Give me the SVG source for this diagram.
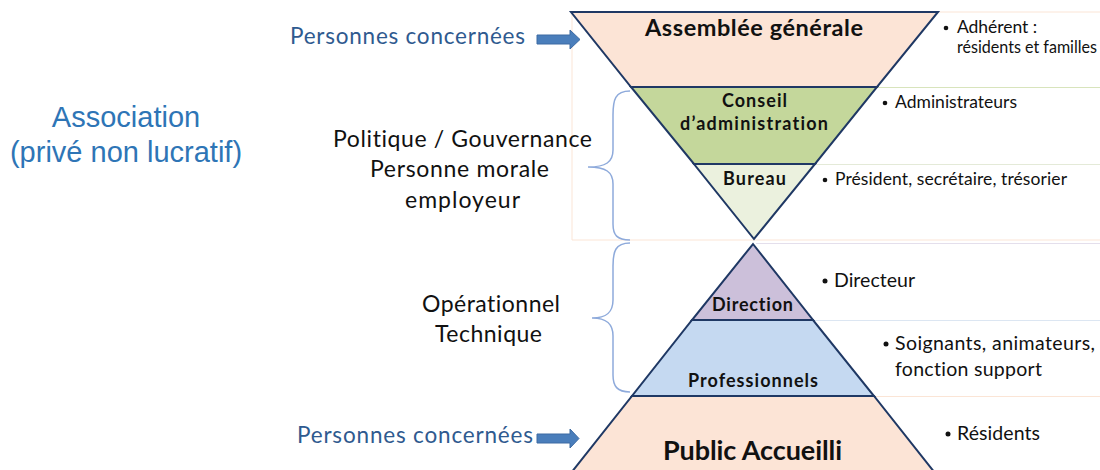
<svg xmlns="http://www.w3.org/2000/svg" width="1100" height="470" viewBox="0 0 1100 470">
<style>
text{font-variant-ligatures:none}
.lbl{font-family:Lato,"Open Sans","Liberation Sans",sans-serif;fill:#111}
.bold{font-weight:bold}
.blue{font-family:Lato,"Open Sans","Liberation Sans",sans-serif;fill:#2F5A8F}
.assoc{font-family:"Liberation Sans",Arial,sans-serif;fill:#2E75B6;font-size:29px}
.shape{stroke:#1F3864;stroke-width:2;stroke-linejoin:miter}
.brace{fill:none;stroke:#8EAADB;stroke-width:1.5}
.arrow{fill:#4A7EBB;stroke:#3C6AA3;stroke-width:1}
.bullet{fill:#111}
</style>
<rect x="0" y="0" width="1100" height="470" fill="#ffffff"/>
<g id="guides" fill="none" stroke-width="1">
<path d="M572,12 V240 H1100" stroke="#FBE5D6"/>
<path d="M938,12 H1100" stroke="#FBE5D6"/>
<path d="M876,87.5 H1100" stroke="#D8E4BC"/>
<path d="M815,164.5 H1100" stroke="#E4EAD8"/>
<path d="M756,243.5 H1100" stroke="#E4DFEC"/>
<path d="M813,320.5 H1100" stroke="#DCE6F2"/>
<path d="M874,396.5 H1100" stroke="#FBE5D6"/>
</g>
<g id="assemblee">
<polygon class="shape" points="571,12 938,12 877,87 631,87" fill="#FCE4D6"/>
<text class="lbl bold" x="645" y="36" font-size="23.5" textLength="218">Assemblée générale</text>
</g>
<g id="conseil">
<polygon class="shape" points="631,87 877,87 815,164 694,164" fill="#C4D79B"/>
<text class="lbl bold" x="722" y="107" font-size="18" textLength="65">Conseil</text>
<text class="lbl bold" x="680" y="130" font-size="18" textLength="148">d’administration</text>
</g>
<g id="bureau">
<polygon class="shape" points="694,164 815,164 754,239" fill="#EBF1DE"/>
<text class="lbl bold" x="723" y="185" font-size="18" textLength="63">Bureau</text>
</g>
<g id="direction">
<polygon class="shape" points="753,244 813,320 692,320" fill="#CCC0DA"/>
<text class="lbl bold" x="712" y="311" font-size="18" textLength="81">Direction</text>
</g>
<g id="professionnels">
<polygon class="shape" points="692,320 813,320 874,396 632,396" fill="#C5D9F1"/>
<text class="lbl bold" x="688" y="387" font-size="18" textLength="130">Professionnels</text>
</g>
<g id="public">
<polygon class="shape" points="632,396 874,396 935,473 571,473" fill="#FCE4D6"/>
<text class="lbl bold" x="663" y="460" font-size="27" textLength="179">Public Accueilli</text>
</g>
<g id="connectors">
<polygon class="arrow" points="537,35 570,35 570,30 580,39.5 570,49 570,44 537,44"/>
<polygon class="arrow" points="537,434 570,434 570,429 579,438.5 570,448 570,443 537,443"/>
<path class="brace" d="M630,91 C615,91 613,100 613,115 L613,150 C613,162 606,167 588,167 C606,167 613,172 613,184 L613,224 C613,235 617,240 630,240"/>
<path class="brace" d="M630,243 C615,243 613,252 613,266 L613,300 C613,312 607,318 592,318 C607,318 613,324 613,336 L613,375 C613,386 617,392 630,392"/>
</g>
<g id="left-labels">
<text class="assoc" x="126" y="127" text-anchor="middle">Association</text>
<text class="assoc" x="126" y="162" text-anchor="middle">(privé non lucratif)</text>
<text class="blue" x="290" y="44" font-size="22.5" textLength="235">Personnes concernées</text>
<text class="blue" x="297" y="443" font-size="22.5" textLength="236">Personnes concernées</text>
<text class="lbl" x="333" y="147" font-size="23" textLength="259">Politique / Gouvernance</text>
<text class="lbl" x="370" y="177" font-size="23" textLength="179">Personne morale</text>
<text class="lbl" x="405" y="208" font-size="23" textLength="115">employeur</text>
<text class="lbl" x="422" y="312" font-size="23" textLength="138">Opérationnel</text>
<text class="lbl" x="435" y="342" font-size="23" textLength="107">Technique</text>
</g>
<g id="right-labels">
<circle class="bullet" cx="946" cy="28" r="2.3"/>
<text class="lbl" x="957" y="33" font-size="17.5" textLength="80">Adhérent :</text>
<text class="lbl" x="957" y="53" font-size="16.5" textLength="140" lengthAdjust="spacingAndGlyphs">résidents et familles</text>
<circle class="bullet" cx="885" cy="103" r="2.3"/>
<text class="lbl" x="895" y="108" font-size="17.5" textLength="122">Administrateurs</text>
<circle class="bullet" cx="825" cy="180" r="2.3"/>
<text class="lbl" x="835" y="185" font-size="17.5" textLength="232">Président, secrétaire, trésorier</text>
<circle class="bullet" cx="825" cy="281" r="2.5"/>
<text class="lbl" x="834" y="287" font-size="19.5" textLength="81">Directeur</text>
<circle class="bullet" cx="886" cy="344" r="2.5"/>
<text class="lbl" x="895" y="350" font-size="19.5" textLength="200">Soignants, animateurs,</text>
<text class="lbl" x="895" y="376" font-size="19.5" textLength="147">fonction support</text>
<circle class="bullet" cx="948" cy="434" r="2.5"/>
<text class="lbl" x="957" y="440" font-size="19.5" textLength="83">Résidents</text>
</g>
</svg>
